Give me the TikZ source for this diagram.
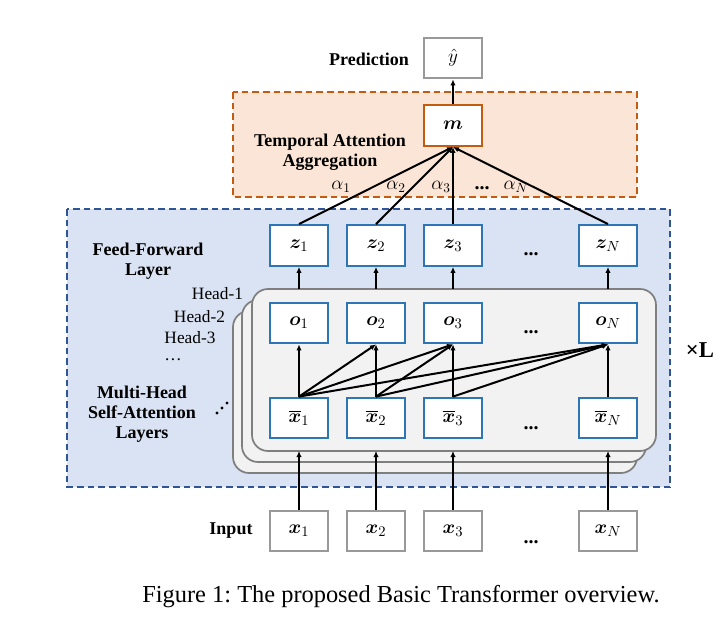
\documentclass[tikz,border=0pt]{standalone}
\usepackage{amsmath,bm}
\usepackage{fontspec}
\setmainfont{Liberation Serif}
\usetikzlibrary{arrows.meta}
\definecolor{bluefill}{HTML}{DAE3F3}
\definecolor{blueline}{HTML}{2F5597}
\definecolor{boxblue}{HTML}{2E75B6}
\definecolor{orangefill}{HTML}{FBE5D6}
\definecolor{orangeline}{HTML}{C55A11}
\definecolor{graybox}{HTML}{999999}
\definecolor{layerfill}{HTML}{F2F2F2}
\definecolor{layerline}{HTML}{7F7F7F}
\frenchspacing
\begin{document}
\begin{tikzpicture}[x=0.75pt,y=-0.75pt,
  bx/.style={draw=boxblue,fill=white,line width=1.6pt,minimum width=43.5pt,minimum height=30.5pt,inner sep=0pt,font=\fontsize{15}{17}\selectfont},
  gbx/.style={bx,draw=graybox},
  obx/.style={bx,draw=orangeline},
  lbl/.style={font=\fontsize{13.5}{15}\selectfont\bfseries,align=center,inner sep=0pt},
  hd/.style={font=\fontsize{13}{15}\selectfont,inner sep=0pt},
  dts/.style={font=\fontsize{15}{17}\selectfont\bfseries,inner sep=0pt,anchor=base},
  al/.style={font=\fontsize{14}{16}\selectfont,inner sep=0pt},
  arr/.style={line width=1.5pt,-{Latex[length=4.5pt,width=4pt]}},
  layer/.style={draw=layerline,fill=layerfill,line width=1.3pt,rounded corners=12pt},
  area/.style={line width=0.9pt,dash pattern=on 5pt off 3pt}]
\useasboundingbox (0,0) rectangle (722,624);
% areas
\draw[area,draw=orangeline,fill=orangefill] (233,92) rectangle (637,197);
\draw[area,draw=blueline,fill=bluefill] (67,209) rectangle (670,487);
% stacked layers
\draw[layer] (233,311) rectangle (637,473);
\draw[layer] (242,300) rectangle (646,462);
\draw[layer] (252,289) rectangle (656,451);
\coordinate (lb1) at (299,451);
\coordinate (lb2) at (376,451);
\coordinate (lb3) at (453,451);
\coordinate (lbN) at (608,451);
\coordinate (lt1) at (299,289);
\coordinate (lt2) at (376,289);
\coordinate (lt3) at (453,289);
\coordinate (ltN) at (608,289);
% nodes
\node[gbx] (y) at (453,58) {$\hat{y}$};
\node[obx] (m) at (453,125.5) {$\bm{m}$};
\foreach \i/\x in {1/299,2/376,3/453,N/608}{
  \node[bx] (z\i) at (\x,245.5) {$\bm{z}_{\i}$};
  \node[bx] (o\i) at (\x,323) {$\bm{o}_{\i}$};
  \node[bx] (xb\i) at (\x,418) {$\overline{\bm{x}}_{\i}$};
  \node[gbx] (x\i) at (\x,531) {$\bm{x}_{\i}$};
}
\node[dts] (d1) at (531,256) {...};
\node[dts] (d2) at (531,334) {...};
\node[dts] (d3) at (531,429) {...};
\node[dts] (d4) at (531,543) {...};
\node[dts] (d5) at (482,190) {...};
% labels
\node[lbl] (pred) at (369,59) {Prediction};
\node[lbl] (taa) at (330,152) {Temporal Attention\\Aggregation};
\node[lbl] (ffl) at (148,261) {Feed-Forward\\Layer};
\node[lbl] (mhsa) at (142,414) {Multi-Head\\Self-Attention\\Layers};
\node[lbl] (inp) at (231,531) {Input};
\node[hd] (h1) at (217.5,294) {Head-1};
\node[hd] (h2) at (199.5,317) {Head-2};
\node[hd] (h3) at (190,338) {Head-3};
\node[hd] (h4) at (173,360) {\ldots};
\node[font=\fontsize{17}{19}\selectfont\bfseries,inner sep=0pt] (xl) at (700,350) {×L};
\node[al] (a1) at (341,187) {$\alpha_1$};
\node[al] (a2) at (396,187) {$\alpha_2$};
\node[al] (a3) at (441,187) {$\alpha_3$};
\node[al] (aN) at (516,187) {$\alpha_N$};
\fill (217,413) circle (1.6);
\fill (222,408) circle (1.6);
\fill (227,403) circle (1.6);
\node[font=\fontsize{18.3}{21}\selectfont,inner sep=0pt] (cap) at (401,597) {Figure 1: The proposed Basic Transformer overview.};
% connectors
\draw[arr] (m) -- (y);
\foreach \i in {1,2,3,N}{
  \draw[arr] (z\i.north) -- (m.south);
  \draw[arr] (lt\i) -- (z\i);
  \draw[arr] (x\i) -- (lb\i);
}
\draw[arr] (xb1.north) -- (o1.south);
\draw[arr] (xb1.north) -- (o2.south);
\draw[arr] (xb1.north) -- (o3.south);
\draw[arr] (xb1.north) -- (oN.south);
\draw[arr] (xb2.north) -- (o2.south);
\draw[arr] (xb2.north) -- (o3.south);
\draw[arr] (xb2.north) -- (oN.south);
\draw[arr] (xb3.north) -- (o3.south);
\draw[arr] (xb3.north) -- (oN.south);
\draw[arr] (xbN.north) -- (oN.south);
\end{tikzpicture}
\end{document}
